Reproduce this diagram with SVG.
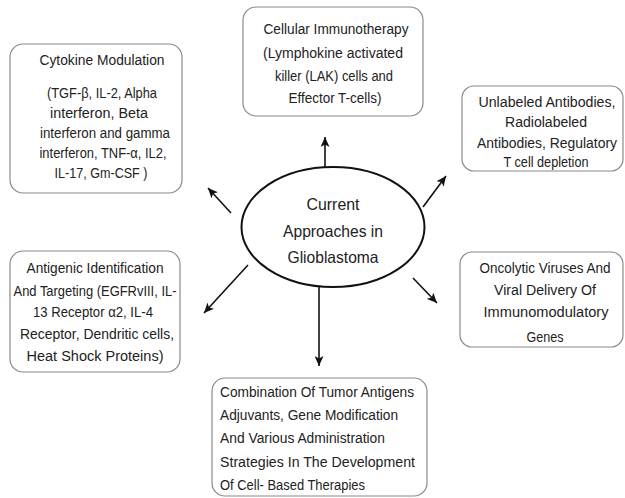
<svg xmlns="http://www.w3.org/2000/svg" width="625" height="498" viewBox="0 0 625 498">
<style>
.box{fill:#fff;stroke:#8a8a8a;stroke-width:1.2}
.t{font-family:"Liberation Sans",Arial,sans-serif;font-size:14px;fill:#222;text-anchor:middle}
.l{text-anchor:start}
.big{font-size:16.5px}
.arr{stroke:#111;stroke-width:1.6;fill:none;marker-end:url(#ah)}
</style>
<defs>
<marker id="ah" markerUnits="userSpaceOnUse" markerWidth="11" markerHeight="9" refX="10" refY="4.5" orient="auto">
<path d="M0,0 L10,4.5 L0,9 L2.5,4.5 z" fill="#111"/>
</marker>
</defs>
<rect width="625" height="498" fill="#fff"/>
<g id="connectors">
<line class="arr" x1="325" y1="167" x2="325" y2="137"/>
<line class="arr" x1="231" y1="213" x2="208" y2="188"/>
<line class="arr" x1="423" y1="207" x2="446" y2="176"/>
<line class="arr" x1="248" y1="265" x2="204" y2="313"/>
<line class="arr" x1="413" y1="278" x2="437" y2="303"/>
<line class="arr" x1="319" y1="287" x2="319" y2="366"/>
</g>
<g id="center">
<ellipse cx="333" cy="227" rx="91.5" ry="60" fill="#fff" stroke="#111" stroke-width="2"/>
<text class="t big" x="333" y="210" textLength="53" lengthAdjust="spacingAndGlyphs">Current</text>
<text class="t big" x="333" y="237" textLength="100" lengthAdjust="spacingAndGlyphs">Approaches in</text>
<text class="t big" x="333" y="263" textLength="91" lengthAdjust="spacingAndGlyphs">Glioblastoma</text>
</g>
<g id="cytokine">
<rect class="box" x="10" y="44" width="172" height="149" rx="13"/>
<text class="t" x="102" y="65" textLength="125" lengthAdjust="spacingAndGlyphs">Cytokine Modulation</text>
<text class="t" x="102" y="98" textLength="110" lengthAdjust="spacingAndGlyphs">(TGF-β, IL-2, Alpha</text>
<text class="t" x="99" y="118" textLength="98" lengthAdjust="spacingAndGlyphs">interferon, Beta</text>
<text class="t" x="105" y="138" textLength="130" lengthAdjust="spacingAndGlyphs">interferon and gamma</text>
<text class="t" x="103" y="158" textLength="127" lengthAdjust="spacingAndGlyphs">interferon, TNF-α, IL2,</text>
<text class="t" x="101" y="178" textLength="93" lengthAdjust="spacingAndGlyphs">IL-17, Gm-CSF )</text>
</g>
<g id="cellular">
<rect class="box" x="243" y="7" width="180" height="109" rx="13"/>
<text class="t" x="336" y="34" textLength="145" lengthAdjust="spacingAndGlyphs">Cellular Immunotherapy</text>
<text class="t" x="333" y="58" textLength="140" lengthAdjust="spacingAndGlyphs">(Lymphokine activated</text>
<text class="t" x="334" y="81" textLength="118" lengthAdjust="spacingAndGlyphs">killer (LAK) cells and</text>
<text class="t" x="335" y="103" textLength="93" lengthAdjust="spacingAndGlyphs">Effector T-cells)</text>
</g>
<g id="antibodies">
<rect class="box" x="462" y="86" width="161" height="85" rx="12"/>
<text class="t" x="547" y="107" textLength="137" lengthAdjust="spacingAndGlyphs">Unlabeled Antibodies,</text>
<text class="t" x="546" y="127" textLength="82" lengthAdjust="spacingAndGlyphs">Radiolabeled</text>
<text class="t" x="547" y="148" textLength="140" lengthAdjust="spacingAndGlyphs">Antibodies, Regulatory</text>
<text class="t" x="546" y="167" textLength="85" lengthAdjust="spacingAndGlyphs">T cell depletion</text>
</g>
<g id="antigenic">
<rect class="box" x="10" y="251" width="170" height="121" rx="13"/>
<text class="t" x="95" y="273" textLength="137" lengthAdjust="spacingAndGlyphs">Antigenic Identification</text>
<text class="t" x="95" y="296" textLength="163" lengthAdjust="spacingAndGlyphs">And Targeting (EGFRvIII, IL-</text>
<text class="t" x="93" y="317" textLength="120" lengthAdjust="spacingAndGlyphs">13 Receptor α2, IL-4</text>
<text class="t" x="97" y="339" textLength="154" lengthAdjust="spacingAndGlyphs">Receptor, Dendritic cells,</text>
<text class="t" x="95" y="361" textLength="137" lengthAdjust="spacingAndGlyphs">Heat Shock Proteins)</text>
</g>
<g id="oncolytic">
<rect class="box" x="460" y="252" width="163" height="95" rx="12"/>
<text class="t" x="545" y="273" textLength="131" lengthAdjust="spacingAndGlyphs">Oncolytic Viruses And</text>
<text class="t" x="545" y="295" textLength="102" lengthAdjust="spacingAndGlyphs">Viral Delivery Of</text>
<text class="t" x="546" y="317" textLength="125" lengthAdjust="spacingAndGlyphs">Immunomodulatory</text>
<text class="t" x="545" y="342" textLength="37" lengthAdjust="spacingAndGlyphs">Genes</text>
</g>
<g id="combination">
<rect class="box" x="212" y="378" width="215" height="118" rx="13"/>
<text class="t l" x="220" y="397" textLength="194" lengthAdjust="spacingAndGlyphs">Combination Of Tumor Antigens</text>
<text class="t l" x="220" y="420" textLength="178" lengthAdjust="spacingAndGlyphs">Adjuvants, Gene Modification</text>
<text class="t l" x="220" y="443" textLength="165" lengthAdjust="spacingAndGlyphs">And Various Administration</text>
<text class="t l" x="220" y="467" textLength="195" lengthAdjust="spacingAndGlyphs">Strategies In The Development</text>
<text class="t l" x="220" y="490" textLength="145" lengthAdjust="spacingAndGlyphs">Of Cell- Based Therapies</text>
</g>
</svg>
